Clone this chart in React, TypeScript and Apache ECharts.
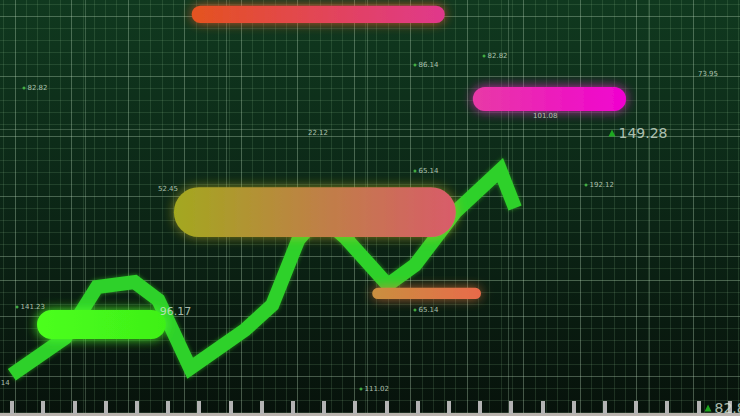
import React, { useEffect, useRef } from "react";
import * as echarts from "echarts";

// Green price line (x: % of width, y: % of height from bottom)
const lineX = [1.6, 8.8, 13.1, 18.2, 21.4, 25.7, 33.1, 36.8, 40.3, 43.2, 46.6, 52.4, 56.1, 61.5, 67.6, 69.6];
const lineY = [9.9, 18.8, 31.0, 32.2, 27.9, 11.5, 20.7, 26.7, 42.3, 48.3, 43.0, 31.5, 36.3, 49.0, 59.1, 50.0];

// Floating capsule bars
const barStart = [25.9, 63.9, 23.5, 5.0, 50.3];
const barEnd = [60.1, 84.6, 61.6, 22.4, 65.0];
const barLow = [94.5, 73.3, 43.0, 18.5, 28.1];
const barHigh = [98.6, 79.1, 55.0, 25.5, 30.8];

// Value labels with a dot marker
const dotX = [3.24, 56.08, 65.41, 56.08, 79.19, 2.3, 56.08, 48.78];
const dotY = [78.85, 84.38, 86.54, 58.89, 55.53, 26.2, 25.48, 6.49];
const dotText = ["82.82", "86.14", "82.82", "65.14", "192.12", "141.23", "65.14", "111.02"];

// Value labels without a marker
const plainX = [94.32, 72.03, 41.62, 21.35, 0.1];
const plainY = [82.21, 72.12, 68.03, 54.57, 7.93];
const plainText = ["73.95", "101.08", "22.12", "52.45", "14"];

// Medium label
const midX = [21.6];
const midY = [25.24];
const midText = ["96.17"];

// Labels with an up-triangle
const arrowX = [82.7, 95.68];
const arrowY = [68.03, 1.92];
const arrowText = ["149.28", "82.82"];

const barPalette = [
  { c0: "#e4531f", c1: "#e0388c", glow: "rgba(240,90,40,0.8)" },
  { c0: "#e83aa6", c1: "#f002d0", glow: "rgba(240,40,200,0.8)" },
  { c0: "#a3a81f", c1: "#d95b6a", glow: "rgba(210,190,40,0.6)" },
  { c0: "#4cff1c", c1: "#3ef018", glow: "rgba(80,255,40,0.95)" },
  { c0: "#c98f3f", c1: "#e86a4a", glow: "rgba(240,120,60,0.7)" },
];

const FONT = "DejaVu Sans";
const TXT = "#d6e4d6";

function hiddenAxis(gridIndex: number, max: number) {
  return { gridIndex, type: "value", min: 0, max, show: false };
}

function gridAxis(gridIndex: number, max: number, major: string, minor: string | null) {
  return {
    gridIndex,
    type: "value",
    min: 0,
    max,
    interval: 1,
    axisLine: { show: false },
    axisTick: { show: false },
    axisLabel: { show: false },
    splitLine: { show: true, lineStyle: { color: major, width: 1 } },
    minorTick: { show: false, splitNumber: 5 },
    minorSplitLine: { show: !!minor, lineStyle: { color: minor || "transparent", width: 1 } },
  };
}

export default function App() {
  const ref = useRef<HTMLDivElement>(null);
  useEffect(() => {
    const chart = echarts.init(ref.current as HTMLDivElement, null, { renderer: "svg" });
    const bars = barStart.map((s, i) => [s, barEnd[i], barLow[i], barHigh[i]]);
    const smallLabel = (distance: number, size: number) => ({
      show: true,
      position: "right",
      distance,
      color: TXT,
      fontSize: size,
      fontFamily: FONT,
      formatter: (p: any) => p.value[2],
    });
    const free = { outerBoundsMode: "none", containLabel: false };
    const option: any = {
      animation: false,
      grid: [
        { left: -41.5, top: -44, width: 791, height: 480, ...free },
        { left: -56, top: -22, width: 846, height: 604, ...free },
        { left: -19.2, width: 780, bottom: 2, height: 20, ...free },
        { left: 0, top: 0, width: 740, height: 416, ...free },
      ],
      xAxis: [
        gridAxis(0, 14, "rgba(190,220,190,0.34)", "rgba(140,190,140,0.17)"),
        gridAxis(1, 6, "rgba(190,220,190,0.26)", null),
        {
          gridIndex: 2,
          type: "value",
          min: 0,
          max: 25,
          interval: 1,
          position: "bottom",
          axisLine: { show: true, onZero: false, lineStyle: { color: "#b9b3ad", width: 3 } },
          axisTick: { show: true, inside: true, length: 13, lineStyle: { color: "#b3b3b3", width: 4 } },
          axisLabel: { show: false },
          splitLine: { show: false },
        },
        hiddenAxis(3, 100),
      ],
      yAxis: [
        gridAxis(0, 8, "rgba(190,220,190,0.34)", "rgba(140,190,140,0.17)"),
        gridAxis(1, 4, "rgba(190,220,190,0.26)", null),
        hiddenAxis(2, 1),
        hiddenAxis(3, 100),
      ],
      series: [
        {
          type: "line",
          xAxisIndex: 3,
          yAxisIndex: 3,
          z: 3,
          showSymbol: false,
          symbol: "none",
          data: lineX.map((x, i) => [x, lineY[i]]),
          lineStyle: {
            color: "#2ed12a",
            width: 14,
            join: "miter",
            cap: "butt",
            shadowBlur: 4,
            shadowColor: "rgba(60,230,40,0.5)",
          },
        },
        {
          type: "custom",
          xAxisIndex: 3,
          yAxisIndex: 3,
          z: 4,
          data: bars,
          encode: { x: [0, 1], y: [2, 3] },
          renderItem: (params: any, api: any) => {
            const p0 = api.coord([api.value(0), api.value(3)]);
            const p1 = api.coord([api.value(1), api.value(2)]);
            const w = p1[0] - p0[0];
            const h = p1[1] - p0[1];
            const pal = barPalette[params.dataIndex];
            return {
              type: "rect",
              shape: { x: p0[0], y: p0[1], width: w, height: h, r: h / 2 },
              style: {
                fill: {
                  type: "linear",
                  x: 0,
                  y: 0,
                  x2: 1,
                  y2: 0,
                  colorStops: [
                    { offset: 0, color: pal.c0 },
                    { offset: 1, color: pal.c1 },
                  ],
                },
                shadowBlur: 12,
                shadowColor: pal.glow,
              },
            };
          },
        },
        {
          type: "scatter",
          xAxisIndex: 3,
          yAxisIndex: 3,
          z: 5,
          symbol: "circle",
          symbolSize: 3,
          itemStyle: { color: "#4ccc4c" },
          data: dotX.map((x, i) => [x, dotY[i], dotText[i]]),
          label: smallLabel(2, 7),
        },
        {
          type: "scatter",
          xAxisIndex: 3,
          yAxisIndex: 3,
          z: 5,
          symbolSize: 0,
          data: plainX.map((x, i) => [x, plainY[i], plainText[i]]),
          label: smallLabel(0, 7),
        },
        {
          type: "scatter",
          xAxisIndex: 3,
          yAxisIndex: 3,
          z: 5,
          symbolSize: 0,
          data: midX.map((x, i) => [x, midY[i], midText[i]]),
          label: smallLabel(0, 11),
        },
        {
          type: "scatter",
          xAxisIndex: 3,
          yAxisIndex: 3,
          z: 5,
          symbol: "triangle",
          symbolSize: 7,
          itemStyle: { color: "#22c822" },
          data: arrowX.map((x, i) => [x, arrowY[i], arrowText[i]]),
          label: smallLabel(3, 14),
        },
      ],
    };
    chart.setOption(option);
    return () => chart.dispose();
  }, []);
  return (
    <div
      ref={ref}
      style={{
        position: "fixed",
        left: 0,
        top: 0,
        width: 740,
        height: 416,
        background: "linear-gradient(180deg, #10391f 0%, #0c2817 45%, #07120b 100%)",
      }}
    />
  );
}
